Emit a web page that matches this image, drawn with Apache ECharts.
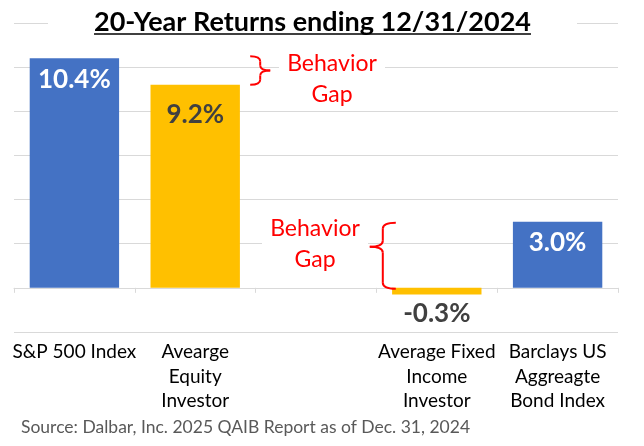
<!DOCTYPE html>
<html>
<head>
<meta charset="utf-8">
<script src="https://cdn.jsdelivr.net/npm/echarts@6/dist/echarts.min.js"></script>
<style>
html,body{margin:0;padding:0;background:#fff;}
#main{width:644px;height:446px;}
</style>
</head>
<body>
<div id="main"></div>
<script>
// chart values
var categories = ['S&P 500 Index', 'Avearge\nEquity\nInvestor', '', 'Average Fixed\nIncome\nInvestor', 'Barclays US\nAggreagte\nBond Index'];
var returns = [10.4, 9.2, null, -0.3, 3.0];
var kinds = ['index', 'investor', '', 'investor', 'index'];
var gapPairs = [[0, 1], [4, 3]]; // [benchmark, investor]
var titleText = '20-Year Returns ending 12/31/2024';
var gapText = 'Behavior\nGap';
var sourceText = 'Source: Dalbar, Inc. 2025 QAIB Report as of Dec. 31, 2024';

var FONT = 'Lato, "Open Sans", sans-serif';
var barColor = { index: '#4472C4', investor: '#FFC000' };
var labelColor = { index: '#ffffff', investor: '#404040' };
var labelDist = { index: 8, investor: 17 };

var chartDom = document.getElementById('main');
var myChart = echarts.init(chartDom);

function barData() {
  return returns.map(function (v, i) {
    if (v == null) return '-';
    var k = kinds[i];
    return {
      value: v,
      itemStyle: { color: barColor[k] },
      label: {
        position: v >= 0 ? 'insideTop' : 'bottom',
        distance: v >= 0 ? labelDist[k] : 6,
        color: labelColor[k]
      }
    };
  });
}

var option = {
  animation: false,
  backgroundColor: '#ffffff',
  grid: { left: 14, right: 26, top: 23, bottom: 114, containLabel: false, outerBoundsMode: 'none' },
  xAxis: {
    type: 'category',
    data: categories,
    axisLine: { onZero: true, lineStyle: { color: '#d9d9d9', width: 1 } },
    axisTick: { show: true, length: 5, lineStyle: { color: '#d9d9d9' } },
    axisLabel: {
      interval: 0,
      margin: 8,
      lineHeight: 24.5,
      fontSize: 19,
      fontFamily: FONT,
      color: '#000000'
    }
  },
  yAxis: {
    type: 'value',
    min: -2,
    max: 12,
    interval: 2,
    axisLabel: { show: false },
    axisLine: { show: false },
    axisTick: { show: false },
    splitLine: { lineStyle: { color: '#d9d9d9', width: 1 } }
  },
  series: [{
    type: 'bar',
    barCategoryGap: '26%',
    label: {
      show: true,
      fontFamily: FONT,
      fontWeight: 'bold',
      fontSize: 26,
      formatter: function (p) { return p.value.toFixed(1) + '%'; }
    },
    data: barData()
  }]
};
myChart.setOption(option);

// annotations
function px(i, v) { return myChart.convertToPixel({ seriesIndex: 0 }, [i, v]); }

var RED = '#ff0000';
function seg(x1, y1, x2, y2) {
  return { type: 'line', z: 60, shape: { x1: x1, y1: y1, x2: x2, y2: y2 }, style: { stroke: RED, lineWidth: 2 } };
}
function curve(x1, y1, cx, cy, x2, y2) {
  return { type: 'bezierCurve', z: 60, shape: { x1: x1, y1: y1, cpx1: cx, cpy1: cy, x2: x2, y2: y2 }, style: { stroke: RED, lineWidth: 2, fill: 'none' } };
}
// curly brace: ends at xEnd, point at xTip
function brace(xEnd, xTip, yTop, yBot, yTip, r) {
  var xm = (xEnd + xTip) / 2;
  return [
    curve(xEnd, yTop, xm, yTop, xm, yTop + r),
    seg(xm, yTop + r, xm, yTip - r),
    curve(xm, yTip - r, xm, yTip, xTip, yTip),
    curve(xTip, yTip, xm, yTip, xm, yTip + r),
    seg(xm, yTip + r, xm, yBot - r),
    curve(xm, yBot - r, xm, yBot, xEnd, yBot)
  ];
}

var ctx = document.createElement('canvas').getContext('2d');
ctx.font = 'bold 27px ' + FONT;
var titleW = ctx.measureText(titleText).width;
var titleX = 312.5;

var mid = px(2, 0)[0];
var elements = [
  { type: 'rect', z: 50, shape: { x: 48, y: 9, width: 529, height: 28 }, style: { fill: '#fff' } },
  { type: 'text', z: 60, x: titleX, y: 22, style: { text: titleText, font: 'bold 27px ' + FONT, fill: '#000', align: 'center', verticalAlign: 'middle' } },
  { type: 'line', z: 60, shape: { x1: titleX - titleW / 2, y1: 34, x2: titleX + titleW / 2, y2: 34 }, style: { stroke: '#000', lineWidth: 1.5 } },
  { type: 'text', z: 60, x: 21, y: 427, style: { text: sourceText, font: '17.5px ' + FONT, fill: '#595959', align: 'left', verticalAlign: 'middle' } }
];

gapPairs.forEach(function (pair, n) {
  var top = px(pair[0], returns[pair[0]])[1];
  var bot = px(pair[1], Math.max(returns[pair[1]], 0))[1];
  var cx = px(pair[1], 0)[0];
  var parts, tx;
  if (n === 0) {
    // brace to the right of the investor bar
    parts = brace(cx + 55, cx + 75, top - 2, bot, (top - 2 + bot) / 2, 5);
    tx = mid + 16;
  } else {
    // brace to the left of the investor bar
    parts = brace(cx - 41, cx - 67, top + 1, bot + 1, top + 0.38 * (bot - top), 6);
    tx = mid - 1;
  }
  var ty = top + (n === 0 ? 6 : 7);
  elements.push({ type: 'rect', z: 50, shape: { x: tx - 53, y: ty - 16, width: 106, height: 58 }, style: { fill: '#fff' } });
  elements.push({ type: 'text', z: 60, x: tx, y: ty - 16, style: { text: gapText, font: '23px ' + FONT, fill: RED, align: 'center', verticalAlign: 'top', lineHeight: 31 } });
  elements = elements.concat(parts);
});

myChart.setOption({ graphic: { elements: elements } });
</script>
</body>
</html>
